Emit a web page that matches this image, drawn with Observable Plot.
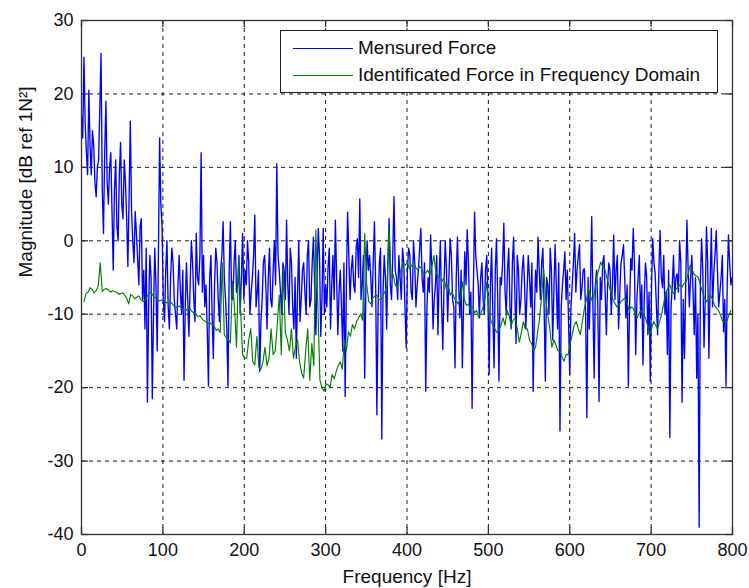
<!DOCTYPE html>
<html>
<head>
<meta charset="utf-8">
<script src="https://cdn.jsdelivr.net/npm/d3@7"></script>
<script src="https://cdn.jsdelivr.net/npm/@observablehq/plot@0.6"></script>
<style>
  html, body { margin: 0; padding: 0; background: #fff; }
  #wrap { position: relative; width: 749px; height: 588px; font-family: "Liberation Sans", Arial, sans-serif; }
  #legend { position: absolute; left: 280px; top: 30px; width: 436px; height: 61px; border: 1px solid #222; background: #fff; font-size: 19px; color: #111; }
  .row { position: absolute; left: 0; height: 20px; }
  .row .sw { position: absolute; left: 12px; width: 60px; top: 9px; height: 0; border-top: 1.3px solid; }
  .row .tx { position: absolute; left: 77px; top: -1px; white-space: nowrap; line-height: 20px; }
</style>
</head>
<body>
<div id="wrap"></div>
<script>
// Series 1: measured force. Samples at 0, 3, 6 ... Hz (blueDb) and at 1.5, 4.5, 7.5 ... Hz (blueDbMid)
const blueStartHz = 0, blueStepHz = 3;
const blueDb = [
  17, 25, 12, 20.5, 9, 13, 6, 11, 25.5, 1,
  19, 5, 12, -4, 11, 0, 13.4, 3, 8, -3.5,
  16.3, 0, 4, -2.5, 2, -8, -12, -22, -2, -21.5,
  -1, -15, 14, 2, -11, 0, -12, -1, -8, -12,
  -2, -10, -19, -3, -13, 0, -8, 1, -6, 12,
  -2, -6, -19.8, -2, -16, -1, -8, -4, 2.6, -8,
  -19.8, 2.6, -8, 0, -6, -10, 1, -4, 0, -10,
  -5, 3.5, -7, -17.8, -8, -2, -12, -1, -9, 0,
  10.5, -4, -10, -4, 2.8, -10, -3, -12, -16, 0,
  -8, -3, -10, 0, -8, 0.5, -12.8, 1.7, -13, 1.7,
  -6, -3.5, -12, -2, 2.8, -12.8, -4, -15, -21.2, 3.9,
  -8, -2, -7, 0.3, 5.7, -6, -18.7, 0, -2, -9,
  2.6, -23.7, -3, -27, -2, -12, 3, -8, 6, -5,
  -2, -8, -3, -14.6, -1, -7, 0, -9, -4, 1.7,
  -7, -20.5, -5, 0.8, -12, -6, -12.8, 0, -14.8, 0,
  -11, 0.3, -8, -17.3, 0.5, -10.5, -17.3, -1.5, 1.5, -10,
  -22.8, 3.9, -4, -10.5, -3, -10, -2, -18.2, -1, -17.3,
  0.3, -19.1, -6, 2.4, -10, -1, -12, 0.5, -14, -4,
  -8, -2, -12, -2, -9, -20.5, -4, 0.5, -8, -1,
  -19.1, -6, -1, -13.5, -0.5, -12, -25.9, -6, -1.5, -4,
  -18.2, -6, 1, -4, -0.5, -6.5, -3.8, -24.1, -12, 3.3,
  -18.7, -4, -21.9, -8, -2, -12.8, -3, -10, 0.8, -4,
  -12, -3, -0.5, -10.5, -19.8, -2.4, 1.7, -15.5, -5, -10.5,
  -16.9, -3, -12.8, -19.1, 0.3, -4.5, -12.8, 1.4, -6.4, -10,
  -15.5, -26.8, -6, -8, -4.5, 0, -22, -16, 2.8, -9,
  -2, -12.8, -18.7, -39, 0.3, -14.5, 1.9, -16, 1.7, -4.5,
  1.4, -9, -5, -12.4, -19.8, 0.8, -6
];
const blueDbMid = [
  14, 16, 9, 13, 15, 8, 10, 18, 7, 12,
  8, 10, 4, 7, 2, 9, 5, 11, 3, 6,
  4, -3, 1, -6, 3, -4, -1, -9, -5, -10,
  -6, -2, 5, -8, -4, -9, -5, -3, -10, -6,
  -7, -4, -9, -8, -6, -3, -11, -5, -2, -7,
  -9, -12, -5, -10, -6, -3, -11, -2, -5, -12,
  -4, -8, -3, -7, -2, -5, -8, -6, -3, -7,
  -2, -9, -4, -11, -3, -6, -5, -8, -4, -6,
  -2, -7, -3, -8, -6, -1, -9, -5, -7, -11,
  -4, -7, -2, -9, -3, -6, -5, -2, -8, -10,
  -9, -1, -6, -8, -5, -7, -9, -3, -6, -2,
  -4, -6, -1, -5, -8, -2, -6, -4, -5, -3,
  -6, -9, -1, -7, -5, -3, -6, -2, -4, -8,
  -5, -1, -9, -4, -2, -8, -3, -6, -1, -5,
  -3, -9, -7, -4, -8, -2, -5, -9, -6, -4,
  -5, -2, -9, -5, -6, -4, -9, -6, -3, -7,
  -7, -2, -6, -5, -8, -4, -8, -6, -10, -4,
  -8, -5, -3, -7, -4, -9, -3, -7, -2, -10,
  -4, -6, -7, -5, -3, -10, -7, -4, -3, -9,
  -5, -10, -4, -7, -6, -3, -9, -4, -8, -11,
  -9, -3, -7, -2, -8, -4, -10, -5, -6, -9,
  -6, -9, -5, -3, -7, -6, -4, -6, -8, -2,
  -7, -2, -5, -6, -9, -4, -3, -8, -2, -6,
  -8, -5, -7, -6, -3, -9, -4, -5, -2, -7,
  -4, -9, -2, -5, -7, -3, -8, -6, -4, -5,
  -7, -5, -10, -6, -4, -8, -3, -6, -9, -2,
  -4, -7, -2, -8, -6, -3, -5
];

// Series 2: identified force. Samples at 3, 8, 13 ... Hz (greenDb) and 5.5, 10.5 ... Hz (greenDbMid)
const greenStartHz = 3, greenStepHz = 5;
const greenDb = [
  -8.3, -7.0, -6.6, -6.8, -3.0, -6.6, -6.7, -6.8, -7.0, -7.2,
  -7.4, -8.6, -7.5, -7.7, -8.0, -8.1, -7.2, -7.5, -7.9, -8.1,
  -8.3, -8.6, -8.8, -9.0, -9.2, -9.5, -9.2, -9.8, -10.3, -10.6,
  -11.0, -11.2, -11.6, -12.0, -3.0, -13.2, -13.9, -9.0, -2.5, -15.5,
  -16, -12, -16.9, -17.3, -16.5, -17, -12, -15, -7.4, -3.8,
  -13.5, -12, -14.4, -16.5, -18.7, -12, -14, 1.5, -19, -20.5,
  -19.6, -18.2, -17.8, -16.5, -13.5, -12.4, -11.4, -11, -10, 1,
  -8.3, -7.8, -7.4, -8.0, -6.9, 1.7, -4.6, -6.5, -3.8, -3.3,
  -3.8, -3.0, -4.0, -3.8, -4.4, -4.6, -2.0, -4.8, -5.5, -6.5,
  -7.4, -7.8, -8.6, -5.6, -8.8, -9.3, -9.8, -10.4, -9.2, -5.6,
  -10.8, -12, -12.2, -10.5, -9.5, -11.5, -10.5, -13.8, -11, -12,
  -14, -14.5, -10.5, -3.8, -10, -14.5, -14.2, -15, -16.4, -15.5,
  -12.8, -11, -12.8, -9.2, -6.5, -8.3, -5, -2.9, -3.8, -6,
  -8, -9, -8.3, -7.8, -9.5, -9.2, -10.5, -9.5, -10.5, -12.8,
  -11, -12, -10, -7, -6, -7.2, -6.3, -6.3, -5.6, -3.3,
  -4.6, -5, -7, -8.3, -7.4, -8.8, -9.5, -11, -11, -9.5
];
const greenDbMid = [
  -7.2, -6.4, -7.1, -6.2, -6.9, -6.5, -7.0, -6.9, -7.3, -7.1,
  -7.8, -7.3, -7.9, -7.5, -8.3, -7.6, -7.0, -7.8, -8.2, -8.0,
  -8.5, -8.4, -9.1, -8.9, -9.4, -9.3, -9.6, -10.0, -10.2, -10.9,
  -11.3, -11.4, -12.2, -12.5, -12.8, -13.5, -5.5, -14.5, -9.5, -16.0,
  -13.5, -16.5, -13.0, -17.5, -14.5, -16.0, -15.5, -11.5, -15.5, -12.5,
  -15.0, -16.0, -13.5, -18.0, -15.0, -19.0, -17.0, -9.0, -20.0, -19.5,
  -20.0, -18.8, -17.0, -17.5, -15.0, -13.0, -12.0, -10.5, -10.8, -6.0,
  -8.6, -7.5, -8.0, -7.4, -6.0, -5.0, -6.0, -5.0, -3.0, -3.0,
  -3.4, -3.6, -3.5, -4.5, -4.0, -3.6, -4.2, -5.2, -5.0, -6.0,
  -7.0, -8.2, -8.0, -8.0, -8.6, -9.0, -9.5, -10.0, -8.0, -9.5,
  -11.5, -12.5, -11.5, -11.5, -10.2, -10.8, -12.0, -12.5, -12.0, -13.5,
  -15.0, -12.5, -7.5, -8.0, -12.0, -13.5, -15.0, -15.8, -15.5, -14.0,
  -11.5, -12.0, -11.0, -8.0, -7.5, -7.0, -4.0, -3.5, -5.0, -7.0,
  -8.5, -8.8, -8.0, -8.5, -9.0, -10.0, -9.8, -10.0, -11.5, -12.0,
  -11.5, -11.0, -8.5, -6.5, -6.8, -6.6, -6.0, -5.8, -4.5, -4.0,
  -4.8, -6.0, -7.8, -7.8, -8.0, -9.2, -10.2, -11.0, -10.2
];

const seriesNames = ["Mensured Force", "Identificated Force in Frequency Domain"];
const seriesColors = ["#0000ff", "#008000"];
const xTicks = [0, 100, 200, 300, 400, 500, 600, 700, 800];
const yTicks = [-40, -30, -20, -10, 0, 10, 20, 30];
const xLabel = "Frequency [Hz]";
const yLabel = "Magnitude [dB ref 1N\u00B2]";

function interleave(a, b, start, step) {
  const out = [];
  a.forEach((v, i) => {
    out.push({f: start + i * step, db: v});
    if (i < b.length) out.push({f: start + i * step + step / 2, db: b[i]});
  });
  return out;
}
const blue = interleave(blueDb, blueDbMid, blueStartHz, blueStepHz);
const green = interleave(greenDb, greenDbMid, greenStartHz, greenStepHz);
const xDom = [xTicks[0], xTicks[xTicks.length - 1]];
const yDom = [yTicks[0], yTicks[yTicks.length - 1]];
const inner = xTicks.slice(1, -1);
const innerY = yTicks.slice(1, -1);

const chart = Plot.plot({
  width: 749,
  height: 588,
  marginLeft: 81,
  marginRight: 17,
  marginTop: 20,
  marginBottom: 54,
  style: {fontFamily: "'Liberation Sans', Arial, sans-serif", fontSize: "18px", background: "#fff", color: "#111", overflow: "visible"},
  x: {domain: xDom},
  y: {domain: yDom},
  marks: [
    Plot.gridX(inner, {stroke: "#000", strokeOpacity: 0.9, strokeDasharray: "4,4"}),
    Plot.gridY(innerY, {stroke: "#000", strokeOpacity: 0.9, strokeDasharray: "4,4"}),
    Plot.line(blue, {x: "f", y: "db", stroke: seriesColors[0], strokeWidth: 1.35, clip: true}),
    Plot.line(green, {x: "f", y: "db", stroke: seriesColors[1], strokeWidth: 1.15, clip: true}),
    Plot.frame({stroke: "#333", strokeWidth: 1.3}),
    Plot.ruleX(xTicks, {y1: yDom[0], y2: yDom[0], insetTop: -7, stroke: "#333", strokeWidth: 1.3}),
    Plot.ruleX(xTicks, {y1: yDom[1], y2: yDom[1], insetBottom: -7, stroke: "#333", strokeWidth: 1.3}),
    Plot.ruleY(yTicks, {x1: xDom[0], x2: xDom[0], insetRight: -7, stroke: "#333", strokeWidth: 1.3}),
    Plot.ruleY(yTicks, {x1: xDom[1], x2: xDom[1], insetLeft: -7, stroke: "#333", strokeWidth: 1.3}),
    Plot.axisX(xTicks, {tickSize: 0, tickPadding: 9, tickFormat: d => String(d), label: null, fontSize: 18}),
    Plot.axisY(yTicks, {tickSize: 0, tickPadding: 8, tickFormat: d => String(d), label: null, fontSize: 18}),
    Plot.text([xLabel], {frameAnchor: "bottom", dy: 42, lineAnchor: "middle", fontSize: 19, fill: "#111"}),
    Plot.text([yLabel], {frameAnchor: "left", dx: -56, rotate: -90, lineAnchor: "middle", fontSize: 19, fill: "#111"})
  ]
});

const wrap = document.getElementById("wrap");
wrap.appendChild(chart);

const legend = document.createElement("div");
legend.id = "legend";
seriesNames.forEach((name, i) => {
  const row = document.createElement("div");
  row.className = "row";
  row.style.top = (8 + i * 27) + "px";
  row.style.width = "100%";
  const sw = document.createElement("div");
  sw.className = "sw";
  sw.style.borderTopColor = seriesColors[i];
  const tx = document.createElement("div");
  tx.className = "tx";
  tx.textContent = name;
  row.appendChild(sw);
  row.appendChild(tx);
  legend.appendChild(row);
});
wrap.appendChild(legend);
</script>
</body>
</html>
